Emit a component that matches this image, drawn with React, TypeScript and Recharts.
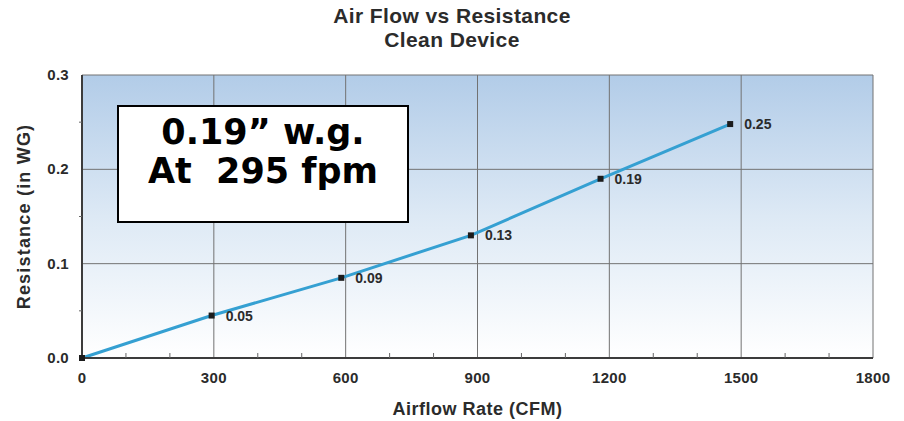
import { CartesianGrid, Label, LabelList, Line, LineChart, XAxis, YAxis } from "recharts";

const airflow = [0, 295, 590, 885, 1180, 1475];
const resistance = [0, 0.045, 0.085, 0.13, 0.19, 0.248];
const pointLabels = ["", "0.05", "0.09", "0.13", "0.19", "0.25"];

const xTicks = [0, 100, 200, 300, 400, 500, 600, 700, 800, 900, 1000, 1100, 1200, 1300, 1400, 1500, 1600, 1700, 1800];
const xMajor = [0, 300, 600, 900, 1200, 1500, 1800];
const yTicks = [0, 0.05, 0.1, 0.15, 0.2, 0.25, 0.3];
const yMajor = [0, 0.1, 0.2, 0.3];

const data = airflow.map((cfm, i) => ({ cfm, wg: resistance[i], label: pointLabels[i] }));

const FONT = '"Liberation Sans", Arial, sans-serif';
const TEXT = "#2b2b2b";

function XTick(props: any) {
  const { x, y, payload } = props;
  const v = payload.value;
  if (xMajor.includes(v)) {
    return (
      <text x={x} y={y} dy={11} textAnchor="middle" fill={TEXT} fontSize={15} fontWeight={700} fontFamily={FONT} letterSpacing={0.3}>
        {v}
      </text>
    );
  }
  // minor tick, pointing up into the plot
  return <line x1={x} x2={x} y1={y - 14} y2={y - 19} stroke="#666" strokeWidth={1} />;
}

function YTick(props: any) {
  const { x, y, payload } = props;
  const v = payload.value;
  const major = yMajor.some((m) => Math.abs(m - v) < 1e-9);
  if (major) {
    return (
      <text x={x} y={y} dy={5} textAnchor="end" fill={TEXT} fontSize={15} fontWeight={700} fontFamily={FONT} letterSpacing={0.3}>
        {v.toFixed(1)}
      </text>
    );
  }
  return <line x1={x + 10} x2={x + 13} y1={y} y2={y} stroke="#666" strokeWidth={1} />;
}

function PointLabel(props: any) {
  const { x, y, value } = props;
  if (!value) return null;
  return (
    <text x={x + 14} y={y + 5} fill={TEXT} fontSize={14} fontWeight={700} fontFamily={FONT}>
      {value}
    </text>
  );
}

function SquareDot(props: any) {
  const { cx, cy, index } = props;
  return <rect key={index} x={cx - 3} y={cy - 3} width={6} height={6} fill="#1c1c1c" />;
}

export default function App() {
  return (
    <div style={{ position: "absolute", left: 0, top: 0, width: 904, height: 421, background: "#fff", fontFamily: FONT }}>
      <div
        style={{
          position: "absolute",
          left: 0,
          top: 4,
          width: 904,
          textAlign: "center",
          fontSize: 21,
          lineHeight: "24px",
          fontWeight: 700,
          color: TEXT,
          letterSpacing: 0.4,
        }}
      >
        Air Flow vs Resistance
        <br />
        Clean Device
      </div>
      <LineChart width={904} height={421} data={data} margin={{ top: 75, right: 31, bottom: 0, left: 0 }}>
        <defs>
          <linearGradient id="plotBg" x1="0" y1="0" x2="0" y2="1">
            <stop offset="0%" stopColor="#b2cce8" />
            <stop offset="50%" stopColor="#dde9f5" />
            <stop offset="100%" stopColor="#ffffff" />
          </linearGradient>
        </defs>
        <CartesianGrid stroke="#727272" strokeWidth={1} fill="url(#plotBg)" verticalValues={xMajor} horizontalValues={yMajor} />
        <XAxis
          dataKey="cfm"
          type="number"
          domain={[0, 1800]}
          ticks={xTicks}
          interval={0}
          height={63}
          tickLine={false}
          tickSize={0}
          tickMargin={14}
          tick={<XTick />}
          axisLine={{ stroke: "#3c3c3c", strokeWidth: 2 }}
        >
          <Label
            value="Airflow Rate (CFM)"
            position="insideBottom"
            offset={6}
            fill={TEXT}
            fontSize={18}
            fontWeight={700}
            fontFamily={FONT}
            letterSpacing={0.5}
          />
        </XAxis>
        <YAxis
          type="number"
          domain={[0, 0.3]}
          ticks={yTicks}
          interval={0}
          width={82}
          tickLine={false}
          tickSize={0}
          tickMargin={13}
          tick={<YTick />}
          axisLine={{ stroke: "#3c3c3c", strokeWidth: 2 }}
        >
          <Label
            value="Resistance (in WG)"
            position="center"
            angle={-90}
            dx={-17}
            fill={TEXT}
            fontSize={18}
            fontWeight={700}
            fontFamily={FONT}
            letterSpacing={1.2}
          />
        </YAxis>
        <Line
          type="linear"
          dataKey="wg"
          stroke="#35a0d2"
          strokeWidth={3}
          dot={<SquareDot />}
          activeDot={false}
          isAnimationActive={false}
        >
          <LabelList dataKey="label" content={<PointLabel />} />
        </Line>
      </LineChart>
      <div
        style={{
          position: "absolute",
          left: 117,
          top: 105,
          width: 292,
          height: 118,
          boxSizing: "border-box",
          border: "2.5px solid #000",
          background: "#fff",
          paddingTop: 6,
          textAlign: "center",
          fontFamily: '"DejaVu Sans", sans-serif',
          fontWeight: 700,
          fontSize: 35,
          lineHeight: "39px",
          color: "#000",
          whiteSpace: "pre",
        }}
      >
        {"0.19\u201D w.g.\nAt  295 fpm"}
      </div>
    </div>
  );
}
